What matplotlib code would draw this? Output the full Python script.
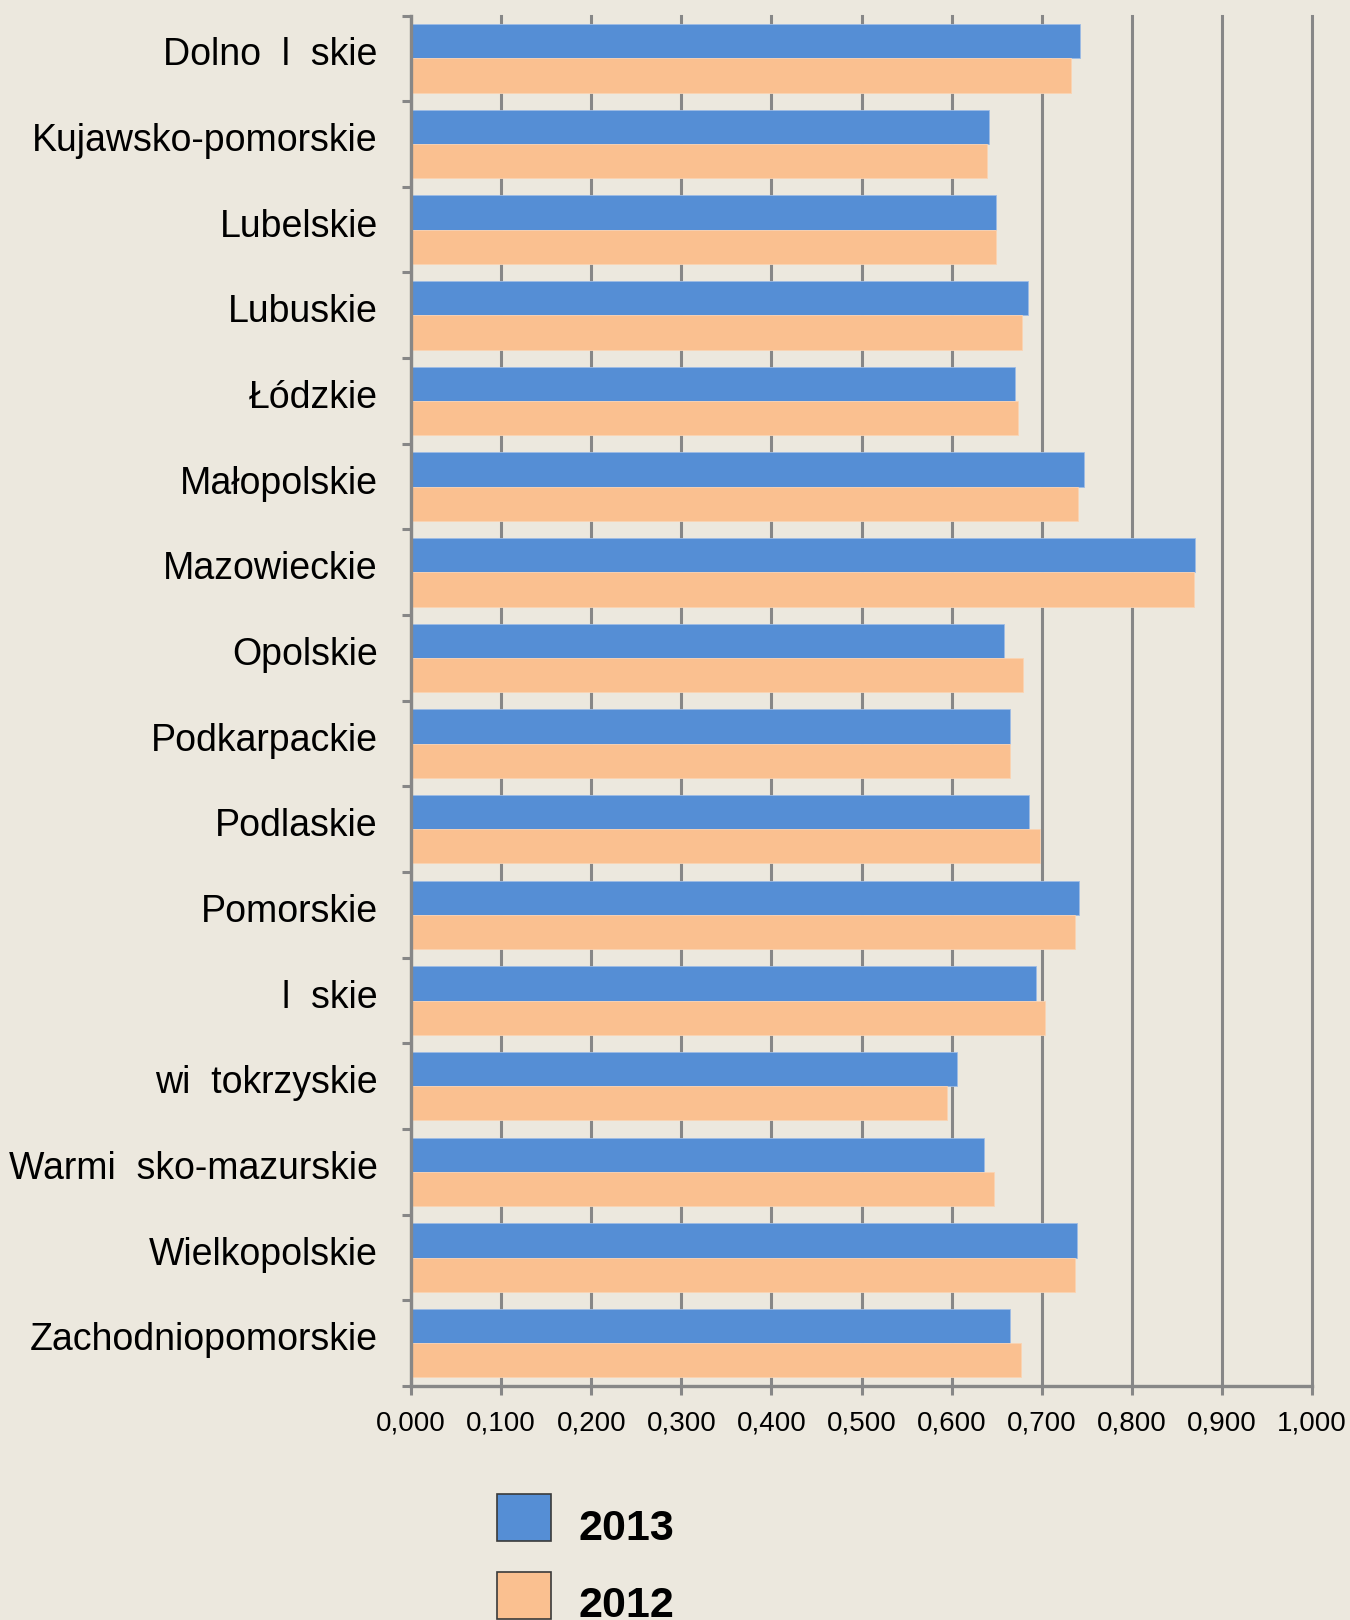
import numpy as np
import matplotlib
matplotlib.use("Agg")
import matplotlib.pyplot as plt
from matplotlib.patches import Rectangle
from matplotlib.ticker import FixedLocator

plt.rcParams['font.family'] = ['Liberation Sans', 'DejaVu Sans']

# regions, top to bottom (missing glyphs in the source left as gaps)
regions = ["Dolno  l  skie", "Kujawsko-pomorskie", "Lubelskie", "Lubuskie",
           "Łódzkie", "Małopolskie", "Mazowieckie", "Opolskie",
           "Podkarpackie", "Podlaskie", "Pomorskie", "l  skie",
           "wi  tokrzyskie", "Warmi  sko-mazurskie", "Wielkopolskie",
           "Zachodniopomorskie"]
val_2013 = [0.742, 0.641, 0.649, 0.685, 0.670, 0.747, 0.870, 0.658,
            0.665, 0.686, 0.741, 0.694, 0.606, 0.636, 0.739, 0.665]
val_2012 = [0.733, 0.639, 0.649, 0.678, 0.674, 0.740, 0.869, 0.679,
            0.665, 0.698, 0.737, 0.704, 0.595, 0.647, 0.737, 0.677]
xticks = [0.0, 0.1, 0.2, 0.3, 0.4, 0.5, 0.6, 0.7, 0.8, 0.9, 1.0]
xtick_labels = ["0,000", "0,100", "0,200", "0,300", "0,400", "0,500",
                "0,600", "0,700", "0,800", "0,900", "1,000"]
series_names = ["2013", "2012"]

BG = "#ECE8DE"
BLUE = "#558ED5"
ORANGE = "#FAC090"
GREY = "#878787"

fig = plt.figure(figsize=(13.5, 16.2), dpi=100, facecolor=BG)
ax = fig.add_axes([411/1350, 1-1386/1620, (1312-411)/1350, (1386-15.5)/1620])
ax.set_facecolor(BG)

y = np.arange(len(regions))
ax.barh(y - 0.2, val_2013, height=0.4, color=BLUE, edgecolor="#9DBCE6",
        linewidth=0.6, zorder=3)
ax.barh(y + 0.2, val_2012, height=0.4, color=ORANGE, edgecolor="#FBD3B2",
        linewidth=0.6, zorder=3)

ax.set_xlim(0, 1.0)
ax.set_ylim(len(regions) - 0.5, -0.5)

ax.set_xticks(xticks)
ax.set_xticklabels(xtick_labels, fontsize=20)
# labels sit a little above the band centre in the original
ax.set_yticks(y - 0.08)
ax.set_yticklabels(regions, fontsize=27)
ax.yaxis.set_minor_locator(FixedLocator(np.arange(-0.5, len(regions), 1.0)))
ax.tick_params(axis='y', which='major', length=0, pad=24)
ax.tick_params(axis='y', which='minor', length=6.5, width=2.2, color=GREY,
               direction='out')
ax.tick_params(axis='x', length=6.5, width=2.2, color=GREY, pad=11)

ax.xaxis.grid(True, color=GREY, linewidth=2.2, zorder=0)
for gl in ax.get_xgridlines():
    gl.set_clip_on(False)
ax.set_axisbelow(True)
for s in ['top', 'right']:
    ax.spines[s].set_visible(False)
for s in ['left', 'bottom']:
    ax.spines[s].set_color(GREY)
    ax.spines[s].set_linewidth(2.4)
    ax.spines[s].set_zorder(4)

# legend drawn by hand so it can run off the bottom edge like the original
box_tops = [1494, 1572]
text_y = [1529, 1606]
for name, col, top, ty in zip(series_names, [BLUE, ORANGE], box_tops, text_y):
    fig.add_artist(Rectangle((497/1350, 1-(top+47)/1620), 54/1350, 47/1620,
                             transform=fig.transFigure, facecolor=col,
                             edgecolor="#3A3A3A", linewidth=1.2))
    fig.text(579/1350, 1-ty/1620, name, fontsize=31, fontweight='bold',
             va='center', ha='left')

fig.savefig("out.png", dpi=100, facecolor=BG)
